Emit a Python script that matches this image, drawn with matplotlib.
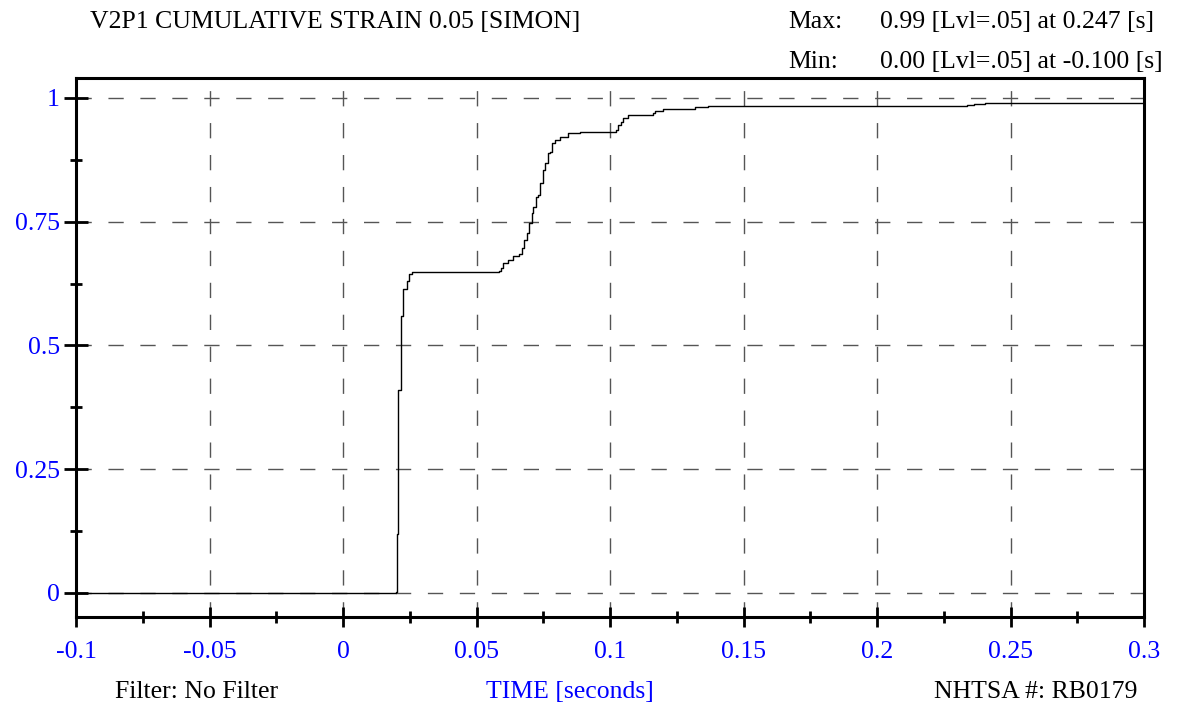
import matplotlib
matplotlib.use("Agg")
import matplotlib.pyplot as plt
from matplotlib.ticker import MultipleLocator, FixedLocator

plt.rcParams['font.family'] = ['Liberation Serif', 'DejaVu Serif']

# Data (time in seconds, cumulative strain)
time_s = [-0.1, 0.0195, 0.0200, 0.0203, 0.0207, 0.0216, 0.0226, 0.0239, 0.0247, 0.0260,
          0.0585, 0.0592, 0.0600, 0.0618, 0.0637, 0.0659, 0.0670, 0.0678, 0.0689, 0.0697,
          0.0708, 0.0712, 0.0723, 0.0730, 0.0738, 0.0749, 0.0757, 0.0768, 0.0775, 0.0783,
          0.0794, 0.0813, 0.0843, 0.0888, 0.1022, 0.1030, 0.1040, 0.1050, 0.1067, 0.1160,
          0.1170, 0.1199, 0.1320, 0.1367, 0.2337, 0.2363, 0.2404, 0.2470, 0.3]
strain = [0.0, 0.0, 0.003, 0.12, 0.41, 0.56, 0.615, 0.63, 0.645, 0.648,
          0.650, 0.657, 0.667, 0.673, 0.680, 0.685, 0.696, 0.713, 0.727, 0.747,
          0.768, 0.780, 0.800, 0.804, 0.828, 0.855, 0.869, 0.889, 0.891, 0.909,
          0.915, 0.921, 0.930, 0.931, 0.936, 0.945, 0.951, 0.960, 0.966, 0.970,
          0.974, 0.977, 0.981, 0.984, 0.985, 0.987, 0.989, 0.990, 0.990]

x_ticks = [-0.1, -0.05, 0, 0.05, 0.1, 0.15, 0.2, 0.25, 0.3]
x_ticklabels = ['-0.1', '-0.05', '0', '0.05', '0.1', '0.15', '0.2', '0.25', '0.3']
y_ticks = [0, 0.25, 0.5, 0.75, 1]
y_ticklabels = ['0', '0.25', '0.5', '0.75', '1']

title = 'V2P1 CUMULATIVE STRAIN 0.05 [SIMON]'
max_text = '0.99 [Lvl=.05] at 0.247 [s]'
min_text = '0.00 [Lvl=.05] at -0.100 [s]'

FS = 18.5

fig = plt.figure(figsize=(11.77, 7.09), dpi=100)
W, H = 1177, 709
ax = fig.add_axes([76 / W, 1 - 617 / H, (1144 - 76) / W, (617 - 78) / H])

ax.plot(time_s, strain, drawstyle='steps-post', color='black', lw=1.0, zorder=3)

ax.set_xlim(-0.1, 0.3)
ax.set_ylim(-0.0485, 1.0404)

ax.xaxis.set_major_locator(FixedLocator(x_ticks))
ax.set_xticklabels(x_ticklabels)
ax.yaxis.set_major_locator(FixedLocator(y_ticks))
ax.set_yticklabels(y_ticklabels)
ax.xaxis.set_minor_locator(MultipleLocator(0.025))
ax.yaxis.set_minor_locator(MultipleLocator(0.125))

ax.grid(True, which='major', color='#555555', linestyle=(0, (11, 12)), lw=1.0)

for s in ax.spines.values():
    s.set_linewidth(2.2)

ax.tick_params(axis='both', which='major', direction='inout', width=2.0,
               labelcolor='blue', labelsize=FS, color='black')
ax.tick_params(axis='x', which='major', length=15, pad=10)
ax.tick_params(axis='y', which='major', length=17, pad=3)
ax.tick_params(axis='both', which='minor', direction='inout', width=2.0, length=8.6)

fig.text(90 / W, 1 - 22 / H, title, ha='left', va='center', fontsize=FS, color='black')
fig.text(788 / W, 1 - 22 / H, 'Max:', ha='left', va='center', fontsize=FS)
fig.text(880 / W, 1 - 22 / H, max_text, ha='left', va='center', fontsize=FS)
fig.text(788 / W, 1 - 62 / H, 'Min:', ha='left', va='center', fontsize=FS)
fig.text(880 / W, 1 - 62 / H, min_text, ha='left', va='center', fontsize=FS)

fig.text(115 / W, 1 - 692 / H, 'Filter: No Filter', ha='left', va='center', fontsize=FS)
fig.text(570 / W, 1 - 692 / H, 'TIME [seconds]', ha='center', va='center', fontsize=FS, color='blue')
fig.text(1137 / W, 1 - 692 / H, 'NHTSA #: RB0179', ha='right', va='center', fontsize=FS)

fig.savefig('out.png', dpi=100)
